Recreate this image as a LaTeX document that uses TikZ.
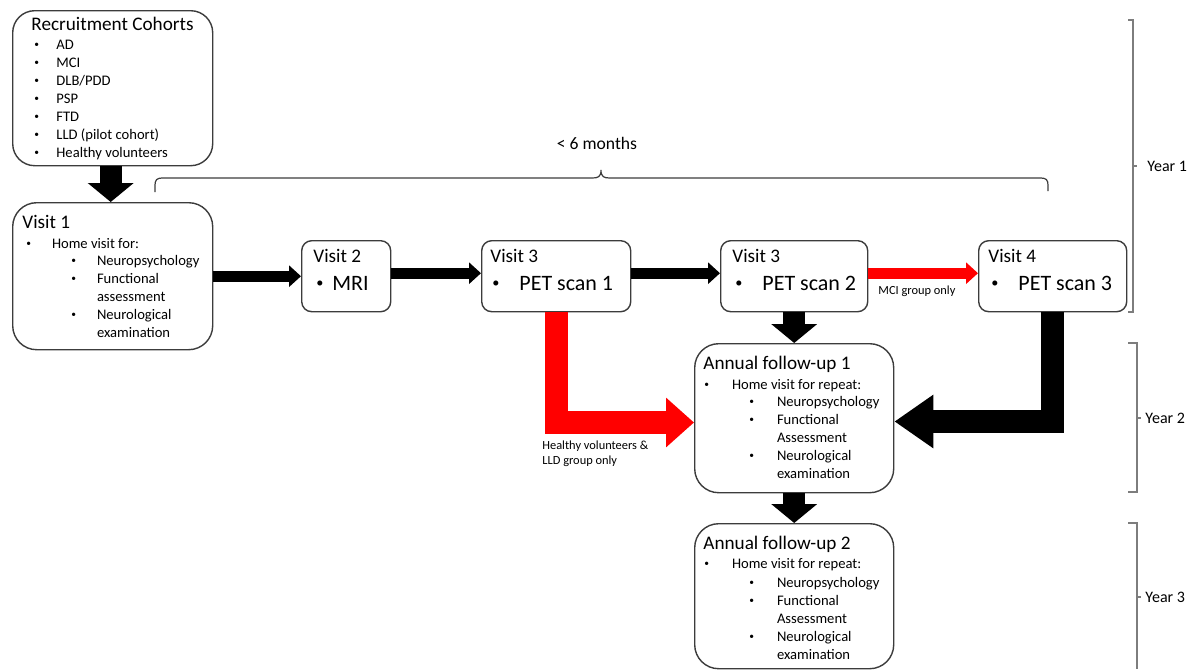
\documentclass[tikz,border=0pt]{standalone}
\usepackage{fontspec}
\setmainfont{Carlito}
\usetikzlibrary{arrows.meta}
\definecolor{boxgray}{RGB}{60,60,60}
\definecolor{brgray}{RGB}{125,125,125}
\definecolor{pured}{RGB}{255,0,0}
\newcommand\mybul[1]{\makebox[#1][l]{\raisebox{0.12em}{\scalebox{0.65}{\textbullet}}}}
\tikzset{
  box/.style={draw=boxgray, line width=0.7pt, fill=white, inner sep=0pt, anchor=north west},
  ttl/.style={anchor=base west, inner sep=0pt, font=\fontsize{9.6}{11}\selectfont},
  itm/.style={anchor=base west, inner sep=0pt, font=\fontsize{7.3}{9}\selectfont},
  bigt/.style={anchor=base west, inner sep=0pt, font=\fontsize{11}{13}\selectfont},
  smallt/.style={anchor=base west, inner sep=0pt, font=\fontsize{6.2}{7.5}\selectfont},
  yeart/.style={anchor=base west, inner sep=0pt, font=\fontsize{8}{9}\selectfont},
  blockv/.style={line width=11pt, -{Triangle[length=9.5pt,width=22.5pt]}},
  blockh/.style={line width=5.5pt, -{Triangle[length=6pt,width=10.5pt]}},
  blockl/.style={line width=11.5pt, line join=miter},
  bracket/.style={draw=brgray, line width=0.6pt},
}
\begin{document}
\begin{tikzpicture}[x=0.5pt,y=-0.5pt]
\useasboundingbox (0,0) rectangle (1193,669);
\fill[white] (0,0) rectangle (1193,669);

% boxes
\node[box, rounded corners=11pt, minimum width=100pt, minimum height=77.5pt] (rc) at (12,10) {};
\node[box, rounded corners=12pt, minimum width=100pt, minimum height=73.5pt] (v1) at (12,202) {};
\node[box, rounded corners=5pt, minimum width=44.5pt, minimum height=35.5pt] (v2) at (301,240) {};
\node[box, rounded corners=5pt, minimum width=74.5pt, minimum height=35.5pt] (v3) at (481,240) {};
\node[box, rounded corners=5pt, minimum width=73.5pt, minimum height=35.5pt] (v3b) at (720,240) {};
\node[box, rounded corners=5pt, minimum width=74pt, minimum height=35.5pt] (v4) at (978,240) {};
\node[box, rounded corners=12pt, minimum width=99.5pt, minimum height=74.5pt] (f1) at (694,343) {};
\node[box, rounded corners=12pt, minimum width=99.5pt, minimum height=72.5pt] (f2) at (694,523) {};

% recruitment text
\node[ttl] (rct) at (31,31) {Recruitment Cohorts};
\node[itm] (r1) at (34,49) {\mybul{11pt}AD};
\node[itm] (r2) at (34,67) {\mybul{11pt}MCI};
\node[itm] (r3) at (34,85) {\mybul{11pt}DLB/PDD};
\node[itm] (r4) at (34,103) {\mybul{11pt}PSP};
\node[itm] (r5) at (34,121) {\mybul{11pt}FTD};
\node[itm] (r6) at (34,139) {\mybul{11pt}LLD (pilot cohort)};
\node[itm] (r7) at (34,157) {\mybul{11pt}Healthy volunteers};

% visit 1 text
\node[ttl] (v1t) at (22,228) {Visit 1};
\node[itm] (v1a) at (26,248) {\mybul{12.8pt}Home visit for:};
\node[itm] (v1b) at (71,265) {\mybul{12.8pt}Neuropsychology};
\node[itm] (v1c) at (71,283) {\mybul{12.8pt}Functional};
\node[itm] (v1d) at (96.6,301) {assessment};
\node[itm] (v1e) at (71,319) {\mybul{12.8pt}Neurological};
\node[itm] (v1f) at (96.6,337) {examination};

% visits 2-4 text
\node[ttl] (v2t) at (313,262) {Visit 2};
\node[bigt] (v2a) at (316,290) {\mybul{8pt}MRI};
\node[ttl] (v3t) at (490,262) {Visit 3};
\node[bigt] (v3a) at (492,290) {\mybul{13.5pt}PET scan 1};
\node[ttl] (v3bt) at (732,262) {Visit 3};
\node[bigt] (v3ba) at (735,290) {\mybul{13.5pt}PET scan 2};
\node[ttl] (v4t) at (988,262) {Visit 4};
\node[bigt] (v4a) at (991,290) {\mybul{13.5pt}PET scan 3};

% follow-up 1
\node[ttl] (f1t) at (703,369) {Annual follow-up 1};
\node[itm] (f1a) at (704,389) {\mybul{13.8pt}Home visit for repeat:};
\node[itm] (f1b) at (749,406) {\mybul{13.8pt}Neuropsychology};
\node[itm] (f1c) at (749,424) {\mybul{13.8pt}Functional};
\node[itm] (f1d) at (776.6,442) {Assessment};
\node[itm] (f1e) at (749,460) {\mybul{13.8pt}Neurological};
\node[itm] (f1f) at (776.6,478) {examination};

% follow-up 2
\node[ttl] (f2t) at (703,549) {Annual follow-up 2};
\node[itm] (f2a) at (704,568) {\mybul{13.8pt}Home visit for repeat:};
\node[itm] (f2b) at (749,587) {\mybul{13.8pt}Neuropsychology};
\node[itm] (f2c) at (749,605) {\mybul{13.8pt}Functional};
\node[itm] (f2d) at (776.6,623) {Assessment};
\node[itm] (f2e) at (749,641) {\mybul{13.8pt}Neurological};
\node[itm] (f2f) at (776.6,659) {examination};

% small labels
\node[smallt] (lmci) at (878,294) {MCI group only};
\node[smallt] (lhv1) at (542,449) {Healthy volunteers \&};
\node[smallt] (lhv2) at (542,464) {LLD group only};

% block arrows
\draw[blockv] ([xshift=-1pt]rc.south) -- ([xshift=-1pt]v1.north);
\draw[blockh] (v1.east) -- (v2.west);
\draw[blockh] ([yshift=1.5pt]v2.east) -- ([yshift=1.5pt]v3.west);
\draw[blockh] ([yshift=1.5pt]v3.east) -- ([yshift=1.5pt]v3b.west);
\draw[blockh, pured] ([yshift=1.5pt]v3b.east) -- ([yshift=1.5pt]v4.west);
\draw[blockv] (v3b.south) -- (f1.north);
\draw[blockv] (f1.south) -- (f2.north);

\coordinate (rl) at (556.5,422.5);
\draw[blockl, pured, -{Triangle[length=14pt,width=24pt]}] (v3.south -| rl) -- (rl) -- (f1.west |- rl);
\coordinate (bl) at (1052.5,421.5);
\draw[blockl, -{Triangle[length=19.5pt,width=25.5pt]}] (v4.south -| bl) -- (bl) -- (f1.east |- bl);

% brace < 6 months
\draw[draw=boxgray, line width=0.6pt] (155,192) -- (155,185) .. controls (155,180) and (157,178) .. (162,178)
  -- (592,178) .. controls (598,178) and (601,177) .. (601,170)
  .. controls (601,177) and (604,178) .. (610,178) -- (1041,178)
  .. controls (1046,178) and (1048,180) .. (1048,185) -- (1048,191);
\node[anchor=base, inner sep=0pt, font=\fontsize{8.8}{10}\selectfont] (six) at (597,149) {< 6 months};

% year brackets
\draw[bracket] (1128,20) -- (1133,20) -- (1133,312) -- (1128,312);
\draw[bracket] (1133,166) -- (1137,166);
\node[yeart] (y1) at (1147,171) {Year 1};
\draw[bracket] (1128,343) -- (1137,343) -- (1137,492) -- (1128,492);
\draw[bracket] (1137,418) -- (1141,418);
\node[yeart] (y2) at (1145,423) {Year 2};
\draw[bracket] (1128,523) -- (1137,523) -- (1137,669);
\draw[bracket] (1137,597) -- (1141,597);
\node[yeart] (y3) at (1145,602) {Year 3};
\end{tikzpicture}
\end{document}
